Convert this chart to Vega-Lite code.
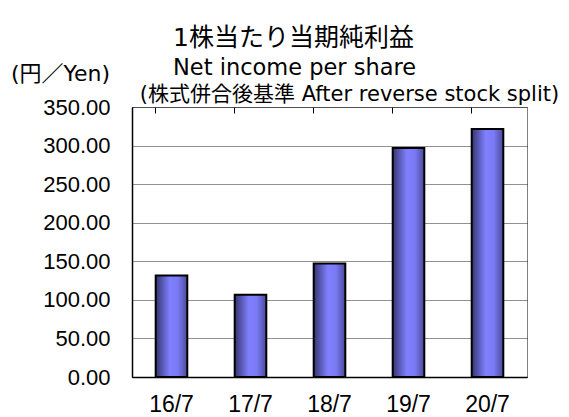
{
  "$schema": "https://vega.github.io/schema/vega-lite/v6.json",
  "autosize": "none",
  "width": 395,
  "height": 270,
  "padding": {"left": 132, "top": 107, "right": 42, "bottom": 40},
  "background": "white",
  "config": {
    "font": "DejaVu Sans, Noto Sans CJK JP",
    "view": {"stroke": "#808080", "strokeWidth": 1}
  },
  "title": {
    "text": "1株当たり当期純利益",
    "subtitle": "Net income per share",
    "anchor": "start",
    "frame": "group",
    "dx": 41,
    "font": "DejaVu Sans, Noto Sans CJK JP",
    "subtitleFont": "DejaVu Sans, Noto Sans CJK JP",
    "fontSize": 25,
    "fontWeight": "normal",
    "subtitleFontSize": 22.5,
    "subtitleColor": "black",
    "color": "black",
    "subtitlePadding": 6,
    "offset": -17
  },
  "data": {
    "values": [
      {"period": "16/7", "eps": 131.5},
      {"period": "17/7", "eps": 106.5},
      {"period": "18/7", "eps": 147.0},
      {"period": "19/7", "eps": 297.0},
      {"period": "20/7", "eps": 321.5}
    ]
  },
  "resolve": {"axis": {"x": "independent"}},
  "layer": [
    {
      "mark": {
        "type": "bar",
        "stroke": "black",
        "strokeWidth": 2,
        "color": {
          "gradient": "linear",
          "x1": 0, "x2": 1, "y1": 0, "y2": 0,
          "stops": [
            {"offset": 0, "color": "#353570"},
            {"offset": 0.45, "color": "#8080ff"},
            {"offset": 0.7, "color": "#7a7af5"},
            {"offset": 1, "color": "#4a4a9a"}
          ]
        }
      },
      "encoding": {
        "x": {
          "field": "period",
          "type": "nominal",
          "sort": null,
          "scale": {"paddingInner": 0.6, "paddingOuter": 0.3},
          "axis": {
            "title": null,
            "orient": "bottom",
            "labelAngle": 0,
            "labelFont": "Liberation Sans",
            "labelFontSize": 23,
            "labelColor": "black",
            "labelPadding": 16,
            "ticks": false,
            "bandPosition": 0,
            "grid": true,
            "gridColor": "black",
            "gridWidth": 1,
            "gridDash": [6, 1000],
            "domainColor": "black",
            "domainWidth": 1.5
          }
        },
        "y": {
          "field": "eps",
          "type": "quantitative",
          "scale": {"domain": [0, 350], "nice": false},
          "axis": {
            "title": "(円／Yen)",
            "titleAngle": 0,
            "titleAlign": "center",
            "titleBaseline": "middle",
            "titleX": -72,
            "titleY": -34,
            "titleFont": "DejaVu Sans, Noto Sans CJK JP",
            "titleFontSize": 22,
            "titleFontWeight": "normal",
            "titleColor": "black",
            "values": [0, 50, 100, 150, 200, 250, 300, 350],
            "format": ".2f",
            "labelFont": "Liberation Sans",
            "labelFontSize": 22,
            "labelColor": "black",
            "labelPadding": 22,
            "ticks": false,
            "domainColor": "black",
            "domainWidth": 1.5,
            "grid": true,
            "gridColor": "#222222",
            "gridDash": [1, 1],
            "gridWidth": 1
          }
        }
      }
    },
    {
      "mark": {"type": "point", "opacity": 0},
      "encoding": {
        "x": {
          "field": "period",
          "type": "nominal",
          "sort": null,
          "axis": {
            "orient": "top",
            "title": "(株式併合後基準  After reverse stock split)",
            "titleFont": "DejaVu Sans, Noto Sans CJK JP",
            "titleFontSize": 21,
            "titleFontWeight": "normal",
            "titleColor": "black",
            "titleAlign": "center",
            "titleBaseline": "middle",
            "titleX": 217,
            "titleY": -13,
            "labels": false,
            "ticks": false,
            "domain": false,
            "grid": false
          }
        }
      }
    }
  ]
}
